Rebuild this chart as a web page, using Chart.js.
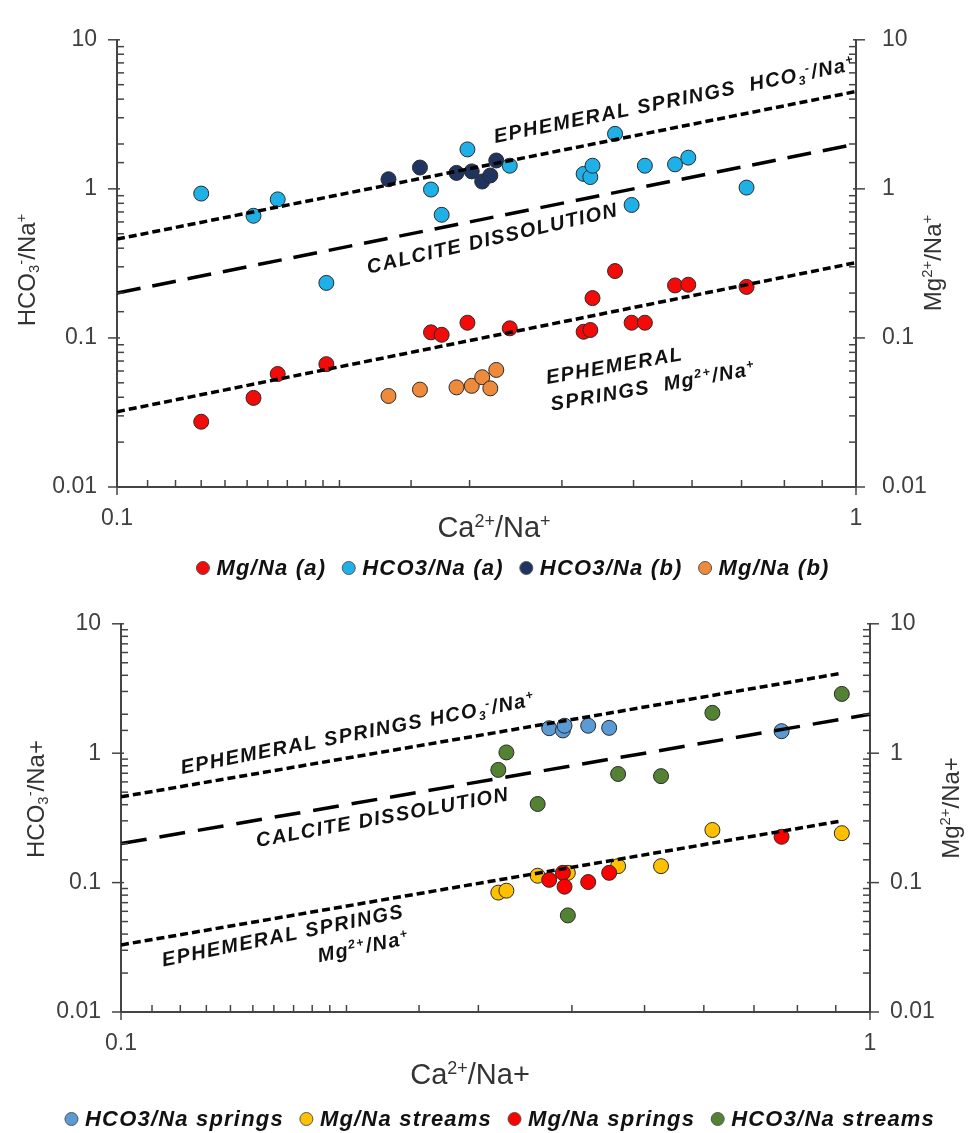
<!DOCTYPE html>
<html>
<head>
<meta charset="utf-8">
<script src="https://cdn.jsdelivr.net/npm/chart.js@4.4.1/dist/chart.umd.min.js"></script>
<style>
  body { margin: 0; background: #fff; width: 971px; height: 1133px; overflow: hidden; }
  canvas { display: block; }
</style>
</head>
<body>
<canvas id="topChart" width="971" height="590"></canvas>
<canvas id="bottomChart" width="971" height="543"></canvas>
<script>
// ---- top chart: samples (a) and (b) ----
const caNa_a   = [0.130, 0.153, 0.165, 0.192, 0.266, 0.275, 0.298, 0.340, 0.428, 0.437, 0.440, 0.472, 0.497, 0.518, 0.569, 0.593, 0.711];
const hco3Na_a = [0.93, 0.66, 0.85, 0.234, 0.99, 0.67, 1.84, 1.43, 1.26, 1.20, 1.43, 2.34, 0.78, 1.43, 1.46, 1.62, 1.02];
const mgNa_a   = [0.0274, 0.0396, 0.0573, 0.0667, 0.109, 0.105, 0.1265, 0.116, 0.110, 0.113, 0.185, 0.281, 0.1265, 0.1265, 0.225, 0.2275, 0.220];
const caNa_b   = [0.233, 0.257, 0.288, 0.302, 0.312, 0.320, 0.326];
const hco3Na_b = [1.16, 1.39, 1.28, 1.31, 1.12, 1.23, 1.55];
const mgNa_b   = [0.0408, 0.0450, 0.0466, 0.0477, 0.0545, 0.0459, 0.0610];

// ---- bottom chart: springs and streams ----
const caNa_springs   = [0.373, 0.389, 0.391, 0.4205, 0.4485, 0.762];
const hco3Na_springs = [1.56, 1.50, 1.63, 1.63, 1.57, 1.48];
const mgNa_springs   = [0.105, 0.119, 0.093, 0.101, 0.119, 0.226];
const caNa_streams   = [0.319, 0.327, 0.360, 0.395, 0.461, 0.526, 0.616, 0.917];
const hco3Na_streams = [0.743, 1.014, 0.405, 0.0558, 0.691, 0.665, 2.05, 2.87];
const mgNa_streams   = [0.0837, 0.0866, 0.113, 0.119, 0.134, 0.134, 0.255, 0.241];

// ---- reference lines (end points) ----
const refX_top       = [0.1, 1];
const hco3Line_top   = [0.46, 4.5];
const mgLine_top     = [0.032, 0.32];
const calciteX       = [0.1, 1];
const calciteLine    = [0.2, 2.0];
const refX_bottom    = [0.1, 0.917];
const hco3Line_bottom = [0.46, 4.15];
const mgLine_bottom  = [0.033, 0.30];

// ---- tick labels ----
const xTickLabels = ['0.1', '1'];
const yTickLabels = ['0.01', '0.1', '1', '10'];

const FONT = '"Liberation Sans", Arial, Helvetica, sans-serif';
function font(size, style) { return (style || '') + ' ' + size + 'px ' + FONT; }
function isDecade(v) { const l = Math.log10(v); return Math.abs(l - Math.round(l)) < 1e-6; }
function decadeLabel(labels, min) {
  return function (v) {
    if (!isDecade(v)) return '';
    const k = Math.round(Math.log10(v)) - Math.round(Math.log10(min));
    return labels[k] !== undefined ? labels[k] : '';
  };
}
function xy(xs, ys) { return xs.map((x, i) => ({ x: x, y: ys[i] })); }

function points(label, xs, ys, color, order) {
  return { label: label, data: xy(xs, ys), backgroundColor: color, borderColor: '#2a2a2a',
           borderWidth: 1, pointRadius: 7.5, pointHoverRadius: 7.5, order: order };
}
function refLine(xs, ys, dash, width) {
  return { isRef: true, data: xy(xs, ys), showLine: true, borderColor: '#000', borderWidth: width,
           borderDash: dash, pointRadius: 0, fill: false, order: 0 };
}

// rich text: segments [text, 0 normal | 1 sup | -1 sub]
function richWidth(ctx, segs, size, style) {
  let w = 0;
  segs.forEach(([t, v]) => { ctx.font = font(v ? size * 0.62 : size, style); w += ctx.measureText(t).width; });
  return w;
}
function drawRich(ctx, segs, x, y, size, style) {
  let cx = x;
  segs.forEach(([t, v]) => {
    ctx.font = font(v ? size * 0.62 : size, style);
    const dy = v === 1 ? -size * 0.36 : (v === -1 ? size * 0.2 : 0);
    ctx.fillText(t, cx, y + dy);
    cx += ctx.measureText(t).width;
  });
}

const tickMarks = {
  id: 'tickMarks',
  afterDraw(chart) {
    const ctx = chart.ctx, a = chart.chartArea;
    ctx.save();
    ctx.strokeStyle = '#444';
    ctx.lineWidth = 1.5;
    ['x', 'y', 'y2'].forEach(id => {
      const s = chart.scales[id];
      s.ticks.forEach(t => {
        const p = s.getPixelForValue(t.value);
        const major = isDecade(t.value);
        ctx.beginPath();
        if (id === 'x') {
          if (major) { ctx.moveTo(p, a.bottom - 3); ctx.lineTo(p, a.bottom + 8); }
          else { ctx.moveTo(p, a.bottom); ctx.lineTo(p, a.bottom - 7); }
        } else {
          const e = id === 'y' ? a.left : a.right;
          const dir = id === 'y' ? -1 : 1;
          if (major) { ctx.moveTo(e - dir * 3, p); ctx.lineTo(e + dir * 9, p); }
          else { ctx.moveTo(e, p); ctx.lineTo(e - dir * 7, p); }
        }
        ctx.stroke();
      });
    });
    ctx.restore();
  }
};

const textLayer = {
  id: 'textLayer',
  afterDraw(chart, args, opts) {
    const ctx = chart.ctx;
    const sx = chart.scales.x, sy = chart.scales.y;
    ctx.save();
    ctx.fillStyle = '#111';
    ctx.textBaseline = 'alphabetic';
    ctx.textAlign = 'left';

    // notes along the lines
    ctx.letterSpacing = '1.5px';
    opts.notes.forEach(n => {
      const px = sx.getPixelForValue(n.x), py = sy.getPixelForValue(n.y);
      const widths = n.lines.map(l => richWidth(ctx, l, 20, 'italic bold'));
      const maxW = Math.max.apply(null, widths);
      ctx.save();
      ctx.translate(px, py);
      ctx.rotate(n.rot * Math.PI / 180);
      n.lines.forEach((l, i) => {
        const off = n.align === 'right' ? maxW - widths[i] : 0;
        drawRich(ctx, l, off, i * 27, 20, 'italic bold');
      });
      ctx.restore();
    });

    // axis titles
    ctx.letterSpacing = '0px';
    ctx.fillStyle = '#333';
    opts.titles.forEach(t => {
      const w = richWidth(ctx, t.segs, t.size, '');
      ctx.save();
      ctx.translate(t.x, t.y);
      ctx.rotate((t.rot || 0) * Math.PI / 180);
      drawRich(ctx, t.segs, -w / 2, t.size * 0.36, t.size, '');
      ctx.restore();
    });

    // legend
    const items = chart.data.datasets.filter(d => !d.isRef);
    ctx.letterSpacing = '1.2px';
    ctx.font = font(22, 'italic bold');
    ctx.textBaseline = 'middle';
    const r = 6.5, gapIn = 7, gapOut = 16;
    const tw = items.map(d => ctx.measureText(d.label).width);
    const total = tw.reduce((s, w) => s + w, 0) + items.length * (2 * r + gapIn) + (items.length - 1) * gapOut;
    let x = opts.legend.cx - total / 2;
    items.forEach((d, i) => {
      ctx.beginPath();
      ctx.arc(x + r, opts.legend.y, r, 0, Math.PI * 2);
      ctx.fillStyle = d.backgroundColor;
      ctx.fill();
      ctx.lineWidth = 1;
      ctx.strokeStyle = '#555';
      ctx.stroke();
      x += 2 * r + gapIn;
      ctx.fillStyle = '#111';
      ctx.fillText(d.label, x, opts.legend.y + 1);
      x += tw[i] + gapOut;
    });
    ctx.restore();
  }
};

function logAxis(min, max, pos, labels, pad, size) {
  return {
    type: 'logarithmic', min: min, max: max, position: pos,
    border: { display: true, color: '#444', width: 2 },
    grid: { display: false, drawTicks: false },
    ticks: { autoSkip: false, maxRotation: 0, padding: pad, color: '#404040',
             font: { size: 23, family: FONT }, callback: decadeLabel(labels, min) },
    afterFit(s) { if (pos === 'bottom') s.height = size; else s.width = size; }
  };
}

function makeChart(id, sets, sizes, padTop, rightPad, notes, titles, legend) {
  return new Chart(document.getElementById(id), {
    type: 'scatter',
    data: { datasets: sets },
    plugins: [tickMarks, textLayer],
    options: {
      responsive: false,
      animation: false,
      layout: { padding: { top: padTop, left: 0, right: 0, bottom: 0 } },
      plugins: { legend: { display: false }, tooltip: { enabled: false },
                 textLayer: { notes: notes, titles: titles, legend: legend } },
      scales: {
        x: logAxis(0.1, 1, 'bottom', xTickLabels, 18, sizes[0]),
        y: logAxis(0.01, 10, 'left', yTickLabels, 20, sizes[1]),
        y2: logAxis(0.01, 10, 'right', yTickLabels, rightPad, sizes[2])
      }
    }
  });
}

// ---- top chart ----
makeChart('topChart', [
  refLine(refX_top, hco3Line_top, [8, 4], 3.5),
  refLine(calciteX, calciteLine, [24, 12], 3.5),
  refLine(refX_top, mgLine_top, [8, 4], 3.5),
  points('Mg/Na (a)', caNa_a, mgNa_a, '#f50a0a', 1),
  points('HCO3/Na (a)', caNa_a, hco3Na_a, '#1fb0e8', 2),
  points('HCO3/Na (b)', caNa_b, hco3Na_b, '#1f3560', 3),
  points('Mg/Na (b)', caNa_b, mgNa_b, '#ee8a3c', 4)
], [103, 117, 115], 20, 26, [
  { lines: [[['EPHEMERAL SPRINGS  HCO', 0], ['3', -1], ['-', 1], ['/Na', 0], ['+', 1]]], x: 0.325, y: 2.03, rot: -11.5 },
  { lines: [[['CALCITE DISSOLUTION', 0]]], x: 0.219, y: 0.27, rot: -13 },
  { lines: [[['EPHEMERAL', 0]], [['SPRINGS  Mg', 0], ['2+', 1], ['/Na', 0], ['+', 1]]], x: 0.382, y: 0.049, rot: -10 }
], [
  { segs: [['Ca', 0], ['2+', 1], ['/Na', 0], ['+', 1]], x: 494, y: 527, size: 29 },
  { segs: [['HCO', 0], ['3', -1], ['-', 1], ['/Na', 0], ['+', 1]], x: 26, y: 270, rot: -90, size: 24 },
  { segs: [['Mg', 0], ['2+', 1], ['/Na', 0], ['+', 1]], x: 932, y: 263, rot: -90, size: 24 }
], { cx: 513, y: 568 });

// ---- bottom chart ----
makeChart('bottomChart', [
  refLine(refX_bottom, hco3Line_bottom, [8, 4], 3.5),
  refLine(calciteX, calciteLine, [26, 13], 3.5),
  refLine(refX_bottom, mgLine_bottom, [8, 4], 3.5),
  points('HCO3/Na springs', caNa_springs, hco3Na_springs, '#5b9bd5', 3),
  points('Mg/Na streams', caNa_streams, mgNa_streams, '#ffc000', 2),
  points('Mg/Na springs', caNa_springs, mgNa_springs, '#ff0000', 1),
  points('HCO3/Na streams', caNa_streams, hco3Na_streams, '#548235', 4)
], [121, 121, 101], 13, 20, [
  { lines: [[['EPHEMERAL SPRINGS HCO', 0], ['3', -1], ['-', 1], ['/Na', 0], ['+', 1]]], x: 0.1206, y: 0.69, rot: -11 },
  { lines: [[['CALCITE DISSOLUTION', 0]]], x: 0.152, y: 0.188, rot: -10.5 },
  { lines: [[['EPHEMERAL SPRINGS', 0]], [['Mg', 0], ['2+', 1], ['/Na', 0], ['+', 1]]], x: 0.1139, y: 0.0225, rot: -11.5, align: 'right' }
], [
  { segs: [['Ca', 0], ['2+', 1], ['/Na+', 0]], x: 470, y: 484, size: 29 },
  { segs: [['HCO', 0], ['3', -1], ['-', 1], ['/Na+', 0]], x: 35, y: 209, rot: -90, size: 24 },
  { segs: [['Mg', 0], ['2+', 1], ['/Na+', 0]], x: 950, y: 218, rot: -90, size: 24 }
], { cx: 500, y: 529 });
</script>
</body>
</html>
